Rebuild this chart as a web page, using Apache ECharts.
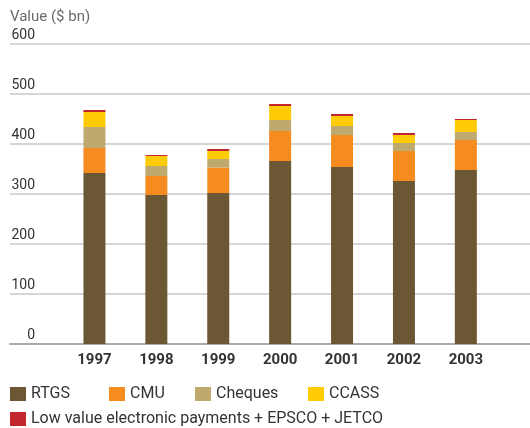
<!DOCTYPE html>
<html><head><meta charset="utf-8">
<script src="https://cdn.jsdelivr.net/npm/echarts@6/dist/echarts.min.js"></script>
<style>html,body{margin:0;padding:0;background:#fff}#c{width:530px;height:428px}</style>
</head><body><div id="c"></div>
<script>
const categories = ['1997','1998','1999','2000','2001','2002','2003'];
const rtgs    = [342, 298, 302, 366, 354, 326, 348];
const cmu     = [50, 38, 51, 60, 64, 60, 60];
const cheques = [42, 20, 17, 22, 18, 16, 16];
const ccass   = [30, 20, 16, 28, 20, 16, 24];
const lowValue = [4, 2, 4, 4, 4, 4, 2];
const seriesNames = ['RTGS','CMU','Cheques','CCASS','Low value electronic payments + EPSCO + JETCO'];
const colors = ['#6b5733','#f68b1f','#bea96e','#ffcb05','#c1272d'];
const yTicks = [0, 100, 200, 300, 400, 500, 600];

const font = 'Roboto, "DejaVu Sans", sans-serif';
const seriesData = [rtgs, cmu, cheques, ccass, lowValue];
const legendPos = [[10,386],[109,386],[195,386],[308,386],[10,411]];

const chart = echarts.init(document.getElementById('c'));
chart.setOption({
  animation: false,
  title: { text: 'Value ($ bn)', left: 5, top: 5,
    textStyle: { fontFamily: font, fontSize: 15, fontWeight: 'normal', color: '#6b6b6b' } },
  legend: seriesNames.map((n, i) => ({
    data: [n], left: legendPos[i][0], top: legendPos[i][1], padding: 0,
    itemWidth: 16, itemHeight: 14, itemGap: 6, icon: 'rect',
    textStyle: { fontFamily: font, fontSize: 16, color: '#333' }
  })),
  grid: [
    { left: 10, right: 0, top: 44, bottom: 84 },
    { left: 63.5, right: 33.2, top: 44, bottom: 84 }
  ],
  xAxis: [
    { gridIndex: 0, type: 'value', min: 0, max: 1, show: true,
      axisLine: { show: true, onZero: false, lineStyle: { color: '#aaaaaa', width: 2 } },
      axisTick: { show: false }, axisLabel: { show: false }, splitLine: { show: false } },
    { gridIndex: 1, type: 'category', data: categories,
      axisLine: { show: false }, axisTick: { show: false },
      axisLabel: { fontFamily: font, fontSize: 15, fontWeight: 'bold', color: '#333', margin: 9 } }
  ],
  yAxis: [
    { gridIndex: 0, type: 'value', min: yTicks[0], max: yTicks[yTicks.length-1], interval: 100,
      axisLine: { show: false }, axisTick: { show: false },
      splitLine: { lineStyle: { color: '#c8c8c8', width: 1.5 } },
      axisLabel: { fontFamily: font, fontSize: 14, color: '#333', margin: -25,
        verticalAlign: 'bottom', padding: [0, 0, 2, 0] } },
    { gridIndex: 1, type: 'value', min: 0, max: 600, interval: 100, show: false,
      splitLine: { show: false } }
  ],
  series: seriesNames.map((n, i) => ({
    name: n, type: 'bar', stack: 'total', xAxisIndex: 1, yAxisIndex: 1,
    barWidth: 22, data: seriesData[i], itemStyle: { color: colors[i] }
  }))
});
</script></body></html>
